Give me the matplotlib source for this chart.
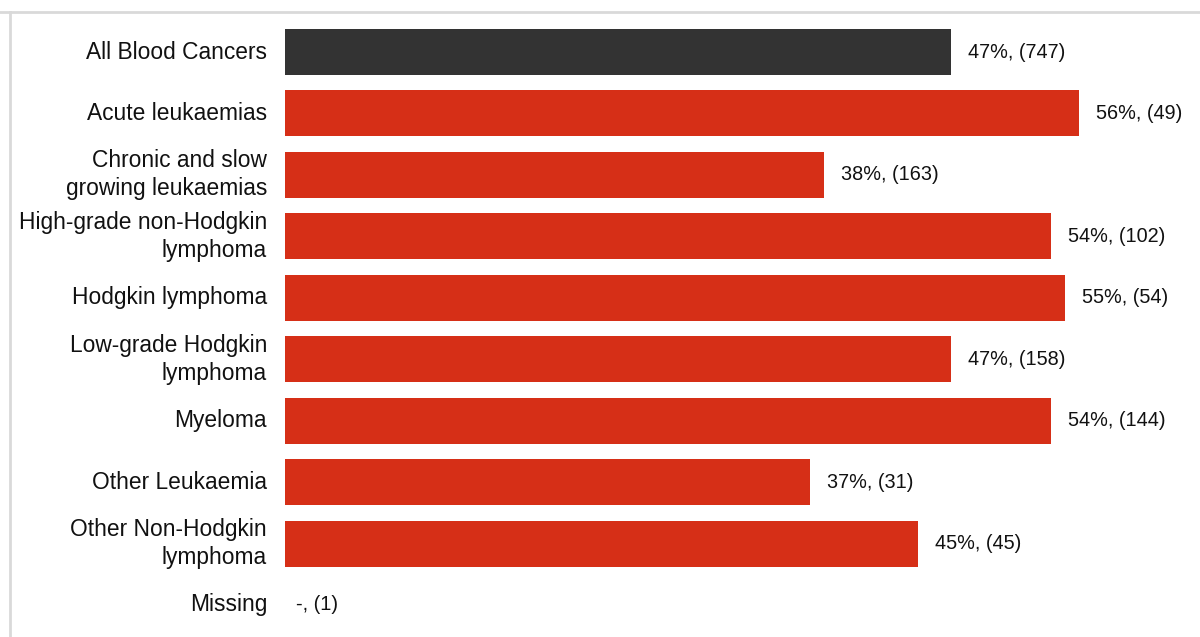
import matplotlib
matplotlib.use("Agg")
import matplotlib.pyplot as plt
from matplotlib.lines import Line2D

categories = ["All Blood Cancers", "Acute leukaemias", "Chronic and slow\ngrowing leukaemias",
              "High-grade non-Hodgkin\nlymphoma", "Hodgkin lymphoma", "Low-grade Hodgkin\nlymphoma",
              "Myeloma", "Other Leukaemia", "Other Non-Hodgkin\nlymphoma", "Missing"]
values = [47, 56, 38, 54, 55, 47, 54, 37, 45, None]
counts = [747, 49, 163, 102, 54, 158, 144, 31, 45, 1]
colors = ["#333333"] + ["#D62F17"] * 9

plt.rcParams['font.family'] = ['Liberation Sans', 'DejaVu Sans']

W, H = 1200, 637
fig = plt.figure(figsize=(W / 100, H / 100), dpi=100)
x0 = 285
pxper = 14.18
top_px, bot_px = 12, 637
ax = fig.add_axes([x0 / W, 0, 1 - x0 / W, 1 - top_px / H])
spacing = 61.44
ax.set_ylim(9 + (bot_px - 605) / spacing, -(52 - top_px) / spacing)
ax.set_xlim(0, (W - x0) / pxper)

for i, (v, c) in enumerate(zip(values, counts)):
    if v is not None:
        left = -5 / pxper if i == 8 else 0
        ax.barh(i, v, left=left, height=0.75, color=colors[i], edgecolor="none")
        ax.text(left + v + 17 / pxper, i, f"{v}%, ({c})", va="center", ha="left",
                fontsize=14.3, color="#111111")
    else:
        ax.text(11 / pxper, i, f"-, ({c})", va="center", ha="left", fontsize=14.3, color="#111111")
    ax.text(-18 / pxper, i, categories[i], va="center", ha="right", fontsize=16.4,
            color="#111111", linespacing=1.28)

ax.set_axis_off()

fig.add_artist(Line2D([0, 1], [1 - 12 / H, 1 - 12 / H], transform=fig.transFigure, color="#d9d9d9", lw=2))
fig.add_artist(Line2D([10 / W, 10 / W], [0, 1 - 12 / H], transform=fig.transFigure, color="#d9d9d9", lw=2))

fig.savefig("out.png", dpi=100)
